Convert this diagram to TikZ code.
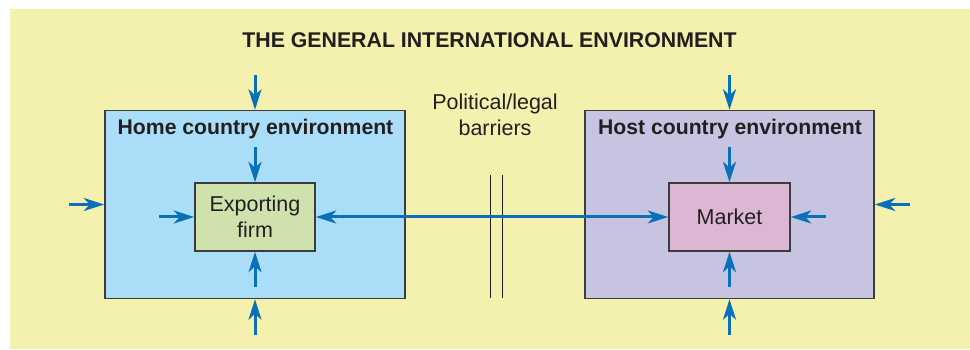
\documentclass[tikz,border=0pt]{standalone}
\usepackage{fontspec}
\setmainfont{Liberation Sans}
\usetikzlibrary{arrows.meta}
\definecolor{bgyellow}{RGB}{243,241,173}
\definecolor{homeblue}{RGB}{170,222,248}
\definecolor{firmgreen}{RGB}{207,226,174}
\definecolor{hostlav}{RGB}{199,196,225}
\definecolor{marketpink}{RGB}{220,183,212}
\definecolor{arrowblue}{RGB}{10,112,185}
\definecolor{edgegrey}{RGB}{60,60,60}
\definecolor{textdark}{RGB}{35,31,32}
\tikzset{
  tipshape/.tip={Stealth[length=20.5pt,width=13pt,inset=6pt]},
  envbox/.style={draw=edgegrey, line width=1.5pt, inner sep=0pt},
  unitbox/.style={draw=edgegrey, line width=1.5pt, inner sep=0pt, align=center,
     text=textdark, font=\fontsize{21.5}{26}\selectfont},
  influence/.style={draw=arrowblue, line width=3pt, -tipshape},
  both/.style={draw=arrowblue, line width=3pt, tipshape-tipshape},
  barrier/.style={draw=textdark, line width=1pt},
  lbl/.style={anchor=base, text=textdark, inner sep=0pt}
}
\begin{document}
\begin{tikzpicture}[x=1pt,y=-1pt]
\useasboundingbox (0,0) rectangle (970,350);
\fill[bgyellow] (10,9) rectangle (970,349);
\node[lbl, font=\fontsize{21.3}{24}\selectfont\bfseries] (title) at (489.5,48) {THE GENERAL INTERNATIONAL ENVIRONMENT};
% boxes
\node[envbox, fill=homeblue, minimum width=300pt, minimum height=188pt] (home) at (255,204.5) {};
\node[envbox, fill=hostlav, minimum width=289pt, minimum height=188pt] (host) at (729.5,204.5) {};
\node[lbl, font=\fontsize{21.2}{24}\selectfont\bfseries] (homelbl) at (255.5,135) {Home country environment};
\node[lbl, font=\fontsize{21.2}{24}\selectfont\bfseries] (hostlbl) at (730,135) {Host country environment};
\node[unitbox, fill=firmgreen, minimum width=120pt, minimum height=68pt] (firm) at (255,217) {Exporting\\firm};
\node[unitbox, fill=marketpink, minimum width=121pt, minimum height=68pt] (market) at (729.5,217) {Market};
% barriers
\node[lbl, align=center, font=\fontsize{21.5}{26}\selectfont] (barlbl) at (495,136) {Political/legal\\barriers};
\coordinate (b1t) at (490,175); \coordinate (b1b) at (490,298);
\coordinate (b2t) at (502,175); \coordinate (b2b) at (502,298);
\draw[barrier] (b1t) -- (b1b);
\draw[barrier] (b2t) -- (b2b);
% home arrows
\coordinate (hTo) at (255,75);
\coordinate (hTi) at (255,147);
\coordinate (hBi) at (255,287);
\coordinate (hBo) at (255,335);
\coordinate (hLo) at (69,204.5);
\coordinate (hLi) at (159,217);
\draw[influence] (hTo) -- (home.north);
\draw[influence] (hTi) -- (firm.north);
\draw[influence] (hBi) -- (firm.south);
\draw[influence] (hBo) -- (home.south);
\draw[influence] (hLo) -- (home.west);
\draw[influence] (hLi) -- (firm.west);
% host arrows
\coordinate (sTo) at (729.5,75);
\coordinate (sTi) at (729.5,147);
\coordinate (sBi) at (729.5,287);
\coordinate (sBo) at (729.5,335);
\coordinate (sRo) at (910,204.5);
\coordinate (sRi) at (826,217);
\draw[influence] (sTo) -- (host.north);
\draw[influence] (sTi) -- (market.north);
\draw[influence] (sBi) -- (market.south);
\draw[influence] (sBo) -- (host.south);
\draw[influence] (sRo) -- (host.east);
\draw[influence] (sRi) -- (market.east);
% main link
\draw[both] (firm.east) -- (market.west);
\end{tikzpicture}
\end{document}
